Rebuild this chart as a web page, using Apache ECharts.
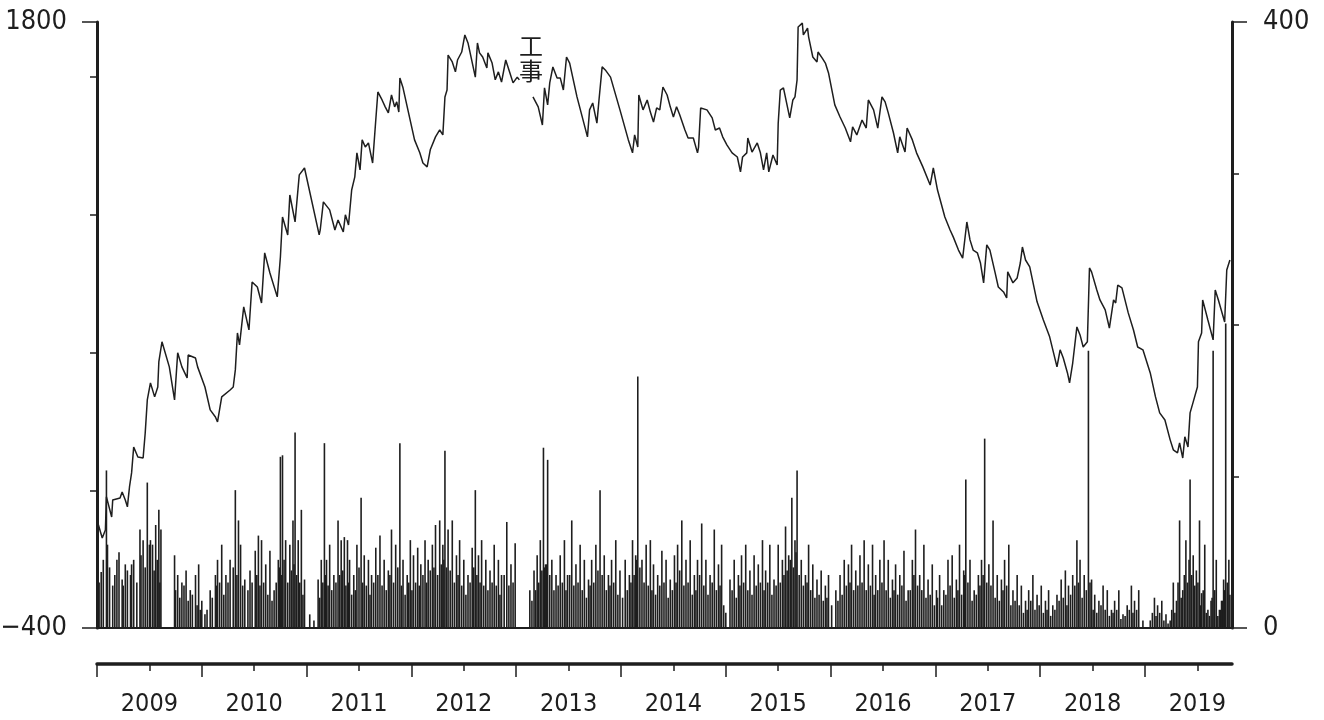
<!DOCTYPE html>
<html>
<head>
<meta charset="utf-8">
<script src="https://cdn.jsdelivr.net/npm/echarts@6/dist/echarts.min.js"></script>
<style>
  html, body { margin: 0; padding: 0; background: #fff; }
  #main { width: 1324px; height: 720px; }
</style>
</head>
<body>
<div id="main"></div>
<script>
// 株価（左軸）
const priceYears = [
  2009.00,2009.05,2009.08,2009.09,2009.14,2009.15,2009.22,2009.24,2009.27,2009.29,
  2009.30,2009.31,2009.33,2009.35,2009.39,2009.44,2009.46,2009.48,2009.51,2009.55,
  2009.58,2009.59,2009.62,2009.69,2009.74,2009.77,2009.81,2009.86,2009.87,2009.94,
  2009.96,2010.03,2010.08,2010.13,2010.15,2010.19,2010.27,2010.30,2010.32,2010.34,
  2010.36,2010.40,2010.45,2010.48,2010.53,2010.57,2010.60,2010.65,2010.72,2010.75,
  2010.77,2010.82,2010.84,2010.89,2010.93,2010.98,2011.12,2011.13,2011.16,2011.22,
  2011.27,2011.30,2011.35,2011.37,2011.40,2011.43,2011.46,2011.48,2011.51,2011.53,
  2011.56,2011.59,2011.63,2011.66,2011.68,2011.72,2011.75,2011.78,2011.81,2011.84,
  2011.86,2011.88,2011.89,2011.92,2012.03,2012.08,2012.11,2012.15,2012.18,2012.23,
  2012.27,2012.30,2012.32,2012.34,2012.35,2012.39,2012.42,2012.44,2012.48,2012.51,
  2012.54,2012.61,2012.63,2012.65,2012.68,2012.72,2012.73,2012.77,2012.80,2012.83,
  2012.86,2012.90,2012.94,2012.97,2013.01,2013.03,
  2013.09,
  2013.16,2013.21,2013.25,2013.27,2013.30,2013.32,2013.35,2013.39,2013.42,2013.45,
  2013.48,2013.51,2013.58,2013.68,2013.70,2013.73,2013.77,2013.79,2013.82,2013.85,
  2013.90,2013.99,2014.07,2014.11,2014.13,2014.16,2014.17,2014.21,2014.25,2014.28,
  2014.31,2014.34,2014.37,2014.40,2014.44,2014.47,2014.50,2014.53,2014.56,2014.61,
  2014.64,2014.69,2014.73,2014.74,2014.76,2014.82,2014.87,2014.90,2014.94,2014.97,
  2015.01,2015.06,2015.11,2015.14,2015.16,2015.20,2015.21,2015.25,2015.30,2015.33,
  2015.36,2015.39,2015.41,2015.45,2015.49,2015.50,2015.52,2015.55,2015.61,2015.64,
  2015.66,2015.68,2015.69,2015.73,2015.74,2015.78,2015.79,2015.83,2015.87,2015.88,
  2015.92,2015.95,2015.98,2016.04,2016.09,2016.14,2016.19,2016.21,2016.25,2016.30,
  2016.34,2016.36,2016.41,2016.45,2016.49,2016.52,2016.55,2016.60,2016.64,2016.66,
  2016.71,2016.73,2016.78,2016.82,2016.88,2016.95,2016.98,2017.02,2017.09,2017.14,
  2017.17,2017.22,2017.26,2017.30,2017.33,2017.36,2017.40,2017.43,2017.46,2017.49,
  2017.52,2017.57,2017.60,2017.65,2017.68,2017.69,2017.74,2017.78,2017.81,2017.83,
  2017.86,2017.90,2017.97,2018.03,2018.09,2018.16,2018.19,2018.22,2018.26,2018.28,
  2018.31,2018.35,2018.38,2018.41,2018.45,2018.47,2018.49,2018.54,2018.57,2018.62,
  2018.66,2018.70,2018.72,2018.74,2018.78,2018.84,2018.89,2018.93,2018.98,2019.05,
  2019.10,2019.14,2019.19,2019.24,2019.27,2019.31,2019.33,2019.36,2019.38,2019.41,
  2019.43,2019.46,2019.50,2019.51,2019.54,2019.55,2019.60,2019.65,2019.67,2019.70,
  2019.76,2019.78,2019.81
];
const priceValues = [
  -8,-73,-44,76,3,65,72,94,65,40,
  76,112,163,257,221,217,308,428,490,439,
  475,566,639,548,428,599,548,508,591,580,
  548,475,392,366,348,439,464,475,537,671,
  628,766,682,856,838,780,962,889,802,947,
  1092,1027,1172,1074,1245,1270,1027,1045,1147,1118,
  1045,1081,1038,1100,1063,1190,1238,1325,1263,1372,
  1346,1361,1288,1444,1546,1517,1492,1470,1535,1492,
  1510,1473,1597,1561,1372,1325,1288,1274,1336,1383,
  1408,1390,1528,1553,1680,1655,1619,1662,1691,1753,
  1724,1600,1724,1688,1673,1633,1688,1651,1590,1619,
  1582,1662,1615,1579,1600,1590,
  null,
  1528,1492,1426,1561,1499,1579,1637,1597,1597,1553,
  1673,1651,1528,1383,1481,1506,1433,1517,1637,1626,
  1600,1481,1372,1325,1390,1346,1535,1481,1517,1473,
  1437,1488,1481,1564,1535,1492,1455,1492,1463,1408,
  1379,1379,1325,1346,1488,1481,1452,1408,1415,1383,
  1354,1325,1310,1256,1310,1325,1379,1328,1361,1325,
  1263,1325,1256,1317,1281,1433,1553,1561,1452,1517,
  1528,1590,1782,1796,1753,1778,1746,1673,1655,1691,
  1669,1651,1615,1499,1455,1415,1365,1419,1390,1444,
  1415,1517,1481,1415,1528,1510,1470,1397,1325,1383,
  1328,1415,1372,1325,1274,1208,1270,1190,1092,1045,
  1020,972,943,1074,1009,972,962,925,853,991,
  972,889,838,820,798,893,853,871,925,983,
  936,911,784,718,657,548,610,580,526,490,
  562,693,664,620,639,907,893,827,791,755,
  689,791,780,845,835,744,682,620,610,526,
  439,381,355,283,247,236,272,217,294,257,
  381,421,475,639,671,791,718,646,827,791,
  711,900,936
];

// 出来高（右軸）：目立つ棒
const volYears = [
  2009.04,2009.09,2009.10,2009.15,2009.19,2009.24,2009.27,2009.32,2009.35,2009.41,
  2009.44,2009.48,2009.51,2009.53,2009.56,2009.59,2009.61,2009.74,2009.77,2009.81,
  2009.85,2009.89,2009.94,2009.97,2010.00,
  2010.03,2010.08,2010.13,2010.15,2010.19,2010.23,2010.27,2010.32,2010.35,2010.37,
  2010.41,2010.46,2010.51,2010.54,2010.57,2010.61,2010.65,2010.69,2010.73,2010.75,
  2010.77,2010.80,2010.84,2010.87,2010.89,2010.92,2010.95,2010.98,2011.03,2011.07,
  2011.11,2011.14,2011.17,2011.19,2011.22,2011.26,2011.30,2011.33,2011.36,2011.39,
  2011.41,2011.45,2011.48,2011.52,2011.55,2011.59,2011.62,2011.66,2011.70,2011.74,
  2011.78,2011.81,2011.85,2011.89,2011.92,2011.96,2011.99,
  2012.02,2012.06,2012.09,2012.13,2012.16,2012.20,2012.23,2012.27,2012.30,2012.32,
  2012.35,2012.39,2012.43,2012.46,2012.50,2012.54,2012.58,2012.61,2012.64,2012.67,
  2012.71,2012.75,2012.79,2012.83,2012.86,2012.91,2012.95,2012.99,
  2013.13,2013.17,2013.20,2013.23,2013.26,2013.28,2013.30,2013.34,2013.38,2013.42,
  2013.46,2013.49,2013.53,2013.57,2013.61,2013.65,2013.69,2013.72,2013.76,2013.80,
  2013.84,2013.88,2013.91,2013.95,2013.99,
  2014.04,2014.08,2014.11,2014.14,2014.16,2014.20,2014.24,2014.28,2014.31,2014.35,
  2014.39,2014.43,2014.47,2014.51,2014.54,2014.58,2014.62,2014.66,2014.70,2014.73,
  2014.77,2014.81,2014.85,2014.89,2014.93,2014.96,
  2015.04,2015.08,2015.12,2015.15,2015.19,2015.23,2015.27,2015.31,2015.35,2015.38,
  2015.42,2015.46,2015.50,2015.54,2015.57,2015.60,2015.63,2015.66,2015.68,2015.72,
  2015.76,2015.79,2015.83,2015.87,2015.91,2015.95,2015.98,
  2016.05,2016.09,2016.13,2016.17,2016.20,2016.24,2016.28,2016.32,2016.36,2016.40,
  2016.43,2016.47,2016.51,2016.55,2016.59,2016.62,2016.66,2016.70,2016.74,2016.78,
  2016.81,2016.85,2016.89,2016.93,2016.97,2017.01,
  2017.04,2017.08,2017.12,2017.16,2017.20,2017.23,2017.27,2017.29,2017.33,2017.37,
  2017.41,2017.44,2017.47,2017.51,2017.55,2017.59,2017.63,2017.66,2017.70,2017.74,
  2017.78,2017.82,2017.86,2017.89,2017.93,2017.97,2018.01,
  2018.05,2018.08,2018.12,2018.16,2018.20,2018.24,2018.27,2018.31,2018.35,2018.38,
  2018.42,2018.46,2018.49,2018.52,2018.56,2018.60,2018.64,2018.68,2018.71,2018.75,
  2018.79,2018.83,2018.87,2018.90,2018.94,2018.98,
  2019.05,2019.09,2019.12,2019.16,2019.20,2019.24,2019.27,2019.30,2019.33,2019.36,
  2019.39,2019.42,2019.43,2019.46,2019.49,2019.52,2019.54,2019.57,2019.60,2019.63,
  2019.65,2019.68,2019.71,2019.73,2019.75,2019.77,2019.80
];
const volValues = [
  37,104,55,28,45,32,42,35,45,65,
  58,96,58,55,68,78,65,48,35,30,
  38,25,35,42,18,
  9,25,35,45,55,35,45,91,71,55,
  32,38,51,61,58,42,51,25,45,113,
  114,58,55,71,129,58,78,32,9,5,
  32,45,122,45,55,35,71,58,60,58,
  45,35,55,86,48,45,35,53,61,45,
  38,65,55,122,45,35,58,
  48,53,42,58,45,55,68,71,55,117,
  65,71,48,58,45,35,53,91,48,58,
  45,38,55,45,35,70,42,56,
  25,38,48,58,119,42,111,45,35,48,
  58,35,71,42,55,45,32,45,55,91,
  48,35,45,58,38,
  45,35,58,48,166,45,55,58,42,35,
  51,45,32,48,55,71,45,58,35,45,
  69,45,35,65,42,55,
  32,45,35,48,55,38,48,42,58,38,
  55,32,55,45,67,48,86,58,104,45,
  35,55,42,32,38,28,35,
  25,35,45,42,55,38,48,58,42,55,
  35,45,58,45,32,42,35,51,25,45,
  65,35,55,32,42,25,
  35,25,45,48,32,55,38,98,45,25,
  35,45,125,42,71,35,32,45,55,25,
  35,28,18,25,35,22,28,
  18,25,15,22,32,38,28,35,58,45,
  35,183,32,22,18,28,25,12,18,25,
  9,15,28,18,25,5,
  5,20,15,18,9,5,30,18,71,25,
  58,45,98,48,38,71,23,55,12,18,
  183,45,12,18,32,201,45
];

// 出来高（右軸）：底部の細かい棒
const volFillYears = [
  2009.02,2009.06,2009.12,2009.17,2009.21,2009.25,2009.29,2009.33,2009.38,2009.42,
  2009.46,2009.50,2009.545,2009.575,2009.60,2009.75,2009.79,2009.83,2009.87,2009.91,
  2009.955,2009.985,
  2010.05,2010.10,2010.14,2010.17,2010.21,2010.25,2010.30,2010.335,2010.39,2010.44,
  2010.48,2010.525,2010.555,2010.59,2010.63,2010.67,2010.71,2010.74,2010.76,2010.785,
  2010.82,2010.855,2010.88,2010.905,2010.935,2010.965,
  2011.125,2011.155,2011.18,2011.205,2011.24,2011.28,2011.315,2011.345,2011.375,2011.40,
  2011.43,2011.465,2011.50,2011.535,2011.57,2011.605,2011.64,2011.68,2011.72,2011.76,
  2011.795,2011.83,2011.87,2011.905,2011.94,2011.975,
  2012.005,2012.04,2012.075,2012.11,2012.145,2012.18,2012.215,2012.25,2012.285,2012.31,
  2012.335,2012.37,2012.41,2012.445,2012.48,2012.52,2012.56,2012.595,2012.625,2012.655,
  2012.69,2012.73,2012.77,2012.81,2012.845,2012.885,2012.93,2012.97,
  2013.15,2013.185,2013.215,2013.245,2013.27,2013.29,2013.32,2013.36,2013.40,2013.44,
  2013.475,2013.51,2013.55,2013.59,2013.63,2013.67,2013.705,2013.74,2013.78,2013.82,
  2013.86,2013.895,2013.93,2013.97,
  2014.015,2014.06,2014.095,2014.125,2014.15,2014.18,2014.22,2014.26,2014.295,2014.33,
  2014.37,2014.41,2014.45,2014.49,2014.525,2014.56,2014.60,2014.64,2014.68,2014.715,
  2014.75,2014.79,2014.83,2014.87,2014.91,2014.945,2014.98,2015.00,
  2015.06,2015.10,2015.135,2015.17,2015.21,2015.25,2015.29,2015.33,2015.365,2015.40,
  2015.44,2015.48,2015.52,2015.555,2015.585,2015.615,2015.645,2015.67,2015.70,2015.74,
  2015.775,2015.81,2015.85,2015.89,2015.93,2015.965,2016.01,
  2016.07,2016.11,2016.15,2016.185,2016.22,2016.26,2016.30,2016.34,2016.38,2016.415,
  2016.45,2016.49,2016.53,2016.57,2016.605,2016.64,2016.68,2016.72,2016.76,2016.795,
  2016.83,2016.87,2016.91,2016.95,2016.99,
  2017.02,2017.06,2017.10,2017.14,2017.18,2017.215,2017.25,2017.28,2017.31,2017.35,
  2017.39,2017.425,2017.455,2017.49,2017.53,2017.57,2017.61,2017.645,2017.68,2017.72,
  2017.76,2017.80,2017.84,2017.875,2017.91,2017.95,2017.99,
  2018.03,2018.065,2018.10,2018.14,2018.18,2018.22,2018.255,2018.29,2018.33,2018.365,
  2018.40,2018.44,2018.475,2018.505,2018.54,2018.58,2018.62,2018.66,2018.695,2018.73,
  2018.77,2018.81,2018.85,2018.885,2018.92,
  2019.07,2019.105,2019.14,2019.18,2019.22,2019.255,2019.285,2019.315,2019.345,2019.375,
  2019.405,2019.445,2019.475,2019.505,2019.53,2019.555,2019.585,2019.615,2019.64,2019.665,
  2019.695,2019.72,2019.74,2019.76,2019.785,2019.81
];
const volFillValues = [
  30,45,40,35,50,28,38,42,30,48,
  40,55,38,45,30,25,20,28,18,22,
  15,12,
  12,20,28,30,22,30,40,35,28,25,
  30,35,28,30,22,18,30,40,35,45,
  30,38,42,35,30,22,
  20,30,35,28,25,30,35,38,28,30,
  22,25,40,30,28,22,30,35,28,25,
  35,30,40,28,22,30,
  25,30,28,35,30,38,40,35,42,45,
  40,38,30,35,28,22,30,40,35,30,
  28,25,30,28,22,35,28,30,
  18,25,30,38,40,42,35,25,28,30,
  25,35,28,30,25,20,28,30,38,35,
  25,28,30,22,
  20,25,30,35,45,40,30,28,25,22,
  28,30,20,25,30,38,28,30,22,25,
  35,28,22,30,25,28,15,10,
  25,20,28,30,25,22,28,30,25,30,
  22,28,30,35,38,45,40,50,35,28,
  30,25,20,22,18,20,15,
  18,22,28,30,25,28,30,25,28,22,
  25,30,25,20,25,22,28,18,25,35,
  28,25,20,22,15,
  20,15,22,28,20,25,22,35,30,18,
  22,28,35,30,28,20,18,25,28,15,
  18,15,10,12,18,12,15,
  10,12,8,12,18,20,15,22,28,30,
  20,25,30,12,10,15,12,8,10,12,
  6,8,12,10,12,
  10,8,10,5,3,12,10,30,20,35,
  30,35,28,30,15,25,10,8,20,25,
  8,12,18,25,30,22
];

const yearStarts = [2009, 2010, 2011, 2012, 2013, 2014, 2015, 2016, 2017, 2018, 2019];
const yearMids = [2009.5, 2010.5, 2011.5, 2012.5, 2013.5, 2014.5, 2015.5, 2016.5, 2017.5, 2018.5, 2019.5];
const priceMinorTicks = [100, 600, 1100, 1600];
const priceLabelTicks = [-400, 1800];
const volMinorTicks = [100, 200, 300];
const volLabelTicks = [0, 400];

const FONT = "'DejaVu Sans Condensed', 'Liberation Sans Narrow', sans-serif";
const INK = "#1e1e1e";

const priceData = priceYears.map((t, i) => [t, priceValues[i] === null ? "-" : priceValues[i]]);
const volData = volFillYears.map((t, i) => [t, volFillValues[i]])
  .concat(volYears.map((t, i) => [t, volValues[i]]));

const chart = echarts.init(document.getElementById("main"));

const baseX = {
  type: "value",
  gridIndex: 0,
  min: 2009,
  max: 2019.83,
  position: "bottom",
  splitLine: { show: false },
  axisLabel: { show: false },
  axisTick: { show: false },
  axisLine: { show: false, onZero: false },
};

chart.setOption({
  animation: false,
  backgroundColor: "#fff",
  grid: { left: 97, top: 22, width: 1135, height: 606, outerBoundsMode: "none", containLabel: false },
  xAxis: [
    // 下端の基線
    Object.assign({}, baseX, {
      axisLine: { show: true, onZero: false, lineStyle: { color: INK, width: 2 } },
    }),
    // 年の区切り（長い目盛）
    Object.assign({}, baseX, {
      offset: 36,
      axisLine: { show: true, onZero: false, lineStyle: { color: INK, width: 3.5 } },
      axisTick: {
        show: true,
        customValues: yearStarts,
        length: 13,
        lineStyle: { color: INK, width: 1.5 },
      },
    }),
    // 年の中間（短い目盛と年ラベル）
    Object.assign({}, baseX, {
      offset: 36,
      axisTick: {
        show: true,
        customValues: yearMids,
        length: 7,
        lineStyle: { color: INK, width: 1.5 },
      },
      axisLabel: {
        show: true,
        customValues: yearMids,
        formatter: (v) => String(Math.floor(v)),
        fontFamily: FONT,
        fontSize: 25,
        color: INK,
        margin: 28,
      },
    }),
  ],
  yAxis: [
    {
      type: "value",
      position: "left",
      min: -400,
      max: 1800,
      splitLine: { show: false },
      axisLine: { show: true, onZero: false, lineStyle: { color: INK, width: 3 } },
      axisTick: { show: true, customValues: priceMinorTicks, length: 7, lineStyle: { color: INK, width: 1.5 } },
      axisLabel: { show: false },
    },
    {
      type: "value",
      position: "left",
      min: -400,
      max: 1800,
      splitLine: { show: false },
      axisLine: { show: false, onZero: false },
      axisTick: { show: true, customValues: priceLabelTicks, length: 15, lineStyle: { color: INK, width: 1.5 } },
      axisLabel: {
        show: true,
        customValues: priceLabelTicks,
        formatter: (v) => (v < 0 ? "\u2212" + Math.abs(v) : String(v)),
        fontFamily: FONT,
        fontSize: 27,
        color: INK,
        margin: 30,
      },
    },
    {
      type: "value",
      position: "right",
      min: 0,
      max: 400,
      splitLine: { show: false },
      axisLine: { show: true, onZero: false, lineStyle: { color: INK, width: 3 } },
      axisTick: { show: true, customValues: volMinorTicks, length: 7, lineStyle: { color: INK, width: 1.5 } },
      axisLabel: { show: false },
    },
    {
      type: "value",
      position: "right",
      min: 0,
      max: 400,
      splitLine: { show: false },
      axisLine: { show: false, onZero: false },
      axisTick: { show: true, customValues: volLabelTicks, length: 15, lineStyle: { color: INK, width: 1.5 } },
      axisLabel: {
        show: true,
        customValues: volLabelTicks,
        fontFamily: FONT,
        fontSize: 27,
        color: INK,
        margin: 31,
      },
    },
  ],
  series: [
    {
      name: "出来高",
      type: "bar",
      xAxisIndex: 0,
      yAxisIndex: 2,
      data: volData,
      barWidth: 1.6,
      itemStyle: { color: INK },
      silent: true,
    },
    {
      name: "株価",
      type: "line",
      xAxisIndex: 0,
      yAxisIndex: 0,
      data: priceData,
      connectNulls: false,
      symbol: "none",
      lineStyle: { color: INK, width: 1.5 },
      silent: true,
    },
  ],
  graphic: [
    {
      type: "text",
      left: 519,
      top: 33,
      style: {
        text: "工\n事",
        font: "24px 'Noto Sans CJK JP'",
        lineHeight: 25,
        fill: INK,
      },
    },
  ],
});
</script>
</body>
</html>
